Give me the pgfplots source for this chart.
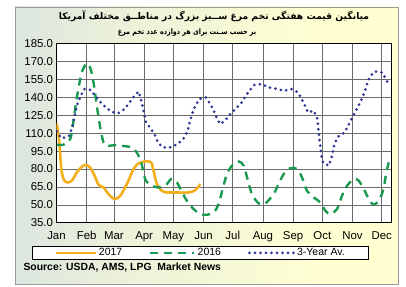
\documentclass[border=0pt]{standalone}
\usepackage{pgfplots}
\pgfplotsset{compat=1.18}
\usepackage{fontspec}
\setmainfont{Liberation Sans}
\newfontfamily\arabicfont[Script=Arabic]{DejaVu Sans}
\TeXXeTstate=1
\definecolor{c2017}{HTML}{F2B01E}
\definecolor{c2016}{HTML}{1A9A50}
\definecolor{cavg}{HTML}{2E3794}
\definecolor{bgblue}{HTML}{C2D3EA}
\definecolor{bgyel}{HTML}{FFFFD2}
\pgfdeclarehorizontalshading{bgshade}{100bp}{color(0bp)=(bgblue); color(40bp)=(bgyel!70!bgblue); color(65bp)=(bgyel); color(100bp)=(bgyel)}
\pgfplotsset{
  limgA/.style={legend image code/.code={\draw[##1] (0pt,0pt) -- (40pt,0pt);}},
  limgB/.style={legend image code/.code={\draw[##1] (0pt,0pt) -- (44pt,0pt);}},
}
\begin{document}
\begin{tikzpicture}[x=1pt,y=1pt]
\path[use as bounding box,fill=white] (0,0) rectangle (406,286);
\path[shading=bgshade,shading angle=0] (15,2) rectangle (398,279);
\draw[gray!80,line width=0.6pt] (15,2) rectangle (398,279);
\node[font=\arabicfont\bfseries\fontsize{9.2}{11}\selectfont] at (214,269.5) {\beginR میانگین قیمت هفتگی تخم مرغ ســبز بزرگ در مناطــق مختلف آمریکا\endR};
\node[font=\arabicfont\bfseries\fontsize{7.6}{9}\selectfont] at (187,253) {\scalebox{0.84}[1]{\beginR بر حسب سـنت برای هر دوازده عدد تخم مرغ\endR}};
\node[anchor=west,font=\bfseries\fontsize{10.4}{12}\selectfont] at (20,18) {Source: USDA, AMS, LPG\ \ Market News};
\begin{axis}[
  at={(58,53)}, anchor=south west,
  width=335pt, height=179pt, scale only axis,
  xmin=0, xmax=344, ymin=35, ymax=185,
  axis background/.style={fill=white},
  xtick={0,31,59,90,120,151,181,212,243,273,304,334},
  xticklabels={Jan,Feb,Mar,Apr,May,Jun,Jul,Aug,Sep,Oct,Nov,Dec},
  ytick={35,50,65,80,95,110,125,140,155,170,185},
  yticklabel style={/pgf/number format/.cd,fixed,fixed zerofill,precision=1},
  /pgf/number format/assume math mode=true,
  ticklabel style={font=\fontsize{11.4}{13}\selectfont},
  xticklabel style={yshift=-5pt},
  major tick length=0pt,
  grid=major,
  grid style={gray!85!black,line width=0.6pt},
  axis line style={black,line width=0.8pt},
  legend columns=3,
  legend style={at={(0.43,-0.168)},anchor=center,draw=black,line width=0.6pt,fill=white,
    font=\fontsize{10.5}{12}\selectfont,inner xsep=22pt,inner ysep=0pt,
    /tikz/every even column/.append style={column sep=25pt}},
  legend cell align=left,
]
\addplot[c2017,line width=2.6pt,smooth,tension=0.5,limgA] coordinates {
(0.3,118.2)(2.8,103.7)(4.8,81.3)(7.2,71.6)(10.6,68.8)(15.7,70.2)(20.9,77.2)(26,81.9)
(30.1,83.4)(34.6,81.3)(39.1,74.4)(43.2,66.8)(48.3,64.6)(53.4,59)(59.6,54.9)(65.5,57.6)
(72.3,67.4)(79.1,80)(84.3,84.7)(91.2,86.4)(97.3,85.5)(99.7,78.6)(103.1,67.4)(108.2,61.8)
(113.4,60.4)(120.2,60.4)(135.7,60.4)(142.5,62.4)(147.7,67.4)};
\addlegendentry{2017}
\addplot[c2016,line width=2.4pt,smooth,tension=0.5,dash pattern=on 8pt off 6pt,limgB] coordinates {
(0.3,100.4)(7.2,100.4)(14.1,105.1)(17.5,120.5)(20.9,140)(26,161)(31.1,168.5)(34.6,165.1)
(38,152.6)(41.4,133)(44.9,114.9)(48.3,102.3)(51.7,99.5)(60.3,100.1)(67.1,99.5)(77.4,98.1)
(82.5,93.9)(87,85.5)(89.4,77.2)(91.8,70.2)(97.9,66)(106.6,64.6)(113.4,67.4)(117.9,71.6)
(123.6,68.8)(128.2,61.8)(133.9,53.4)(140.8,46.5)(147.7,42.3)(154.5,41.7)(161.4,43.6)
(166.5,50.7)(170.6,63.2)(175,75.8)(180.2,82.8)(187,86.4)(192.2,82.8)(196.6,70.2)
(200.7,59.1)(207.6,51.2)(214.5,51.2)(223,59.1)(226.4,64.6)(233.3,75.8)(240.2,80.8)
(247,80)(252.1,73)(257.2,61.8)(264.1,56.2)(271,52)(276.2,45)(281.3,42.3)(288.1,46.5)
(293.2,57.6)(298.4,66)(305.2,71.6)(310.4,70.2)(316.5,61.8)(322.4,52)(327.5,50.7)
(332.7,56.2)(336.1,64.6)(338.4,75.8)(341.2,85.5)(343.3,88.4)};
\addlegendentry{2016}
\addplot[cavg,line width=3pt,line cap=round,dash pattern=on 0pt off 5.5pt,limgB] coordinates {
(0.3,111.5)(5.4,105.6)(13,107.9)(15.7,114)(19.2,126.6)(20.9,133)(23.6,138.7)(27,145)
(28.8,147)(35.3,146.2)(39.8,141.4)(44.9,136.4)(50.7,131.6)(56.8,127.8)(63.7,126.9)
(69.9,130.3)(75,135.8)(80.2,141.4)(84.3,145)(87.5,136)(90.1,126.1)(91.8,119.6)
(96.3,114.4)(100.7,109.3)(103.1,104.3)(108,98.7)(115,97.6)(122,100.1)(128.8,103.7)
(132.9,108.7)(135.7,114.9)(137.4,121.1)(139.8,127.4)(142.5,133)(146.7,138.7)(153.4,140)
(158,134.5)(161.4,128.9)(164.7,122.7)(168.2,117.7)(174,121.3)(178.5,126.1)(184.3,130.8)
(189.8,135.3)(193.9,140.8)(198,145.6)(203.5,150.6)(211,151.2)(218,148.4)(226,147.3)
(233.3,145.6)(241.2,147)(248,144.2)(251.5,139.2)(254.9,133.6)(258.3,127.4)(264.1,128.9)
(267.5,123.2)(268.5,116.9)(269.3,110.7)(270,104.3)(271,98.1)(272,91.7)(273.7,85.5)
(279.5,82.8)(282.3,89.2)(284,95.3)(285.7,101.8)(289.1,107.1)(296,110.7)(299.4,116.3)
(302.9,121.9)(307,128)(310.4,133.6)(313.8,139.2)(316.5,145)(318.9,151.2)(321.7,157.3)
(326.8,161.8)(334.3,161)(338.4,155.4)(341.9,149.2)};
\addlegendentry{3-Year Av.}
\end{axis}
\end{tikzpicture}
\end{document}
